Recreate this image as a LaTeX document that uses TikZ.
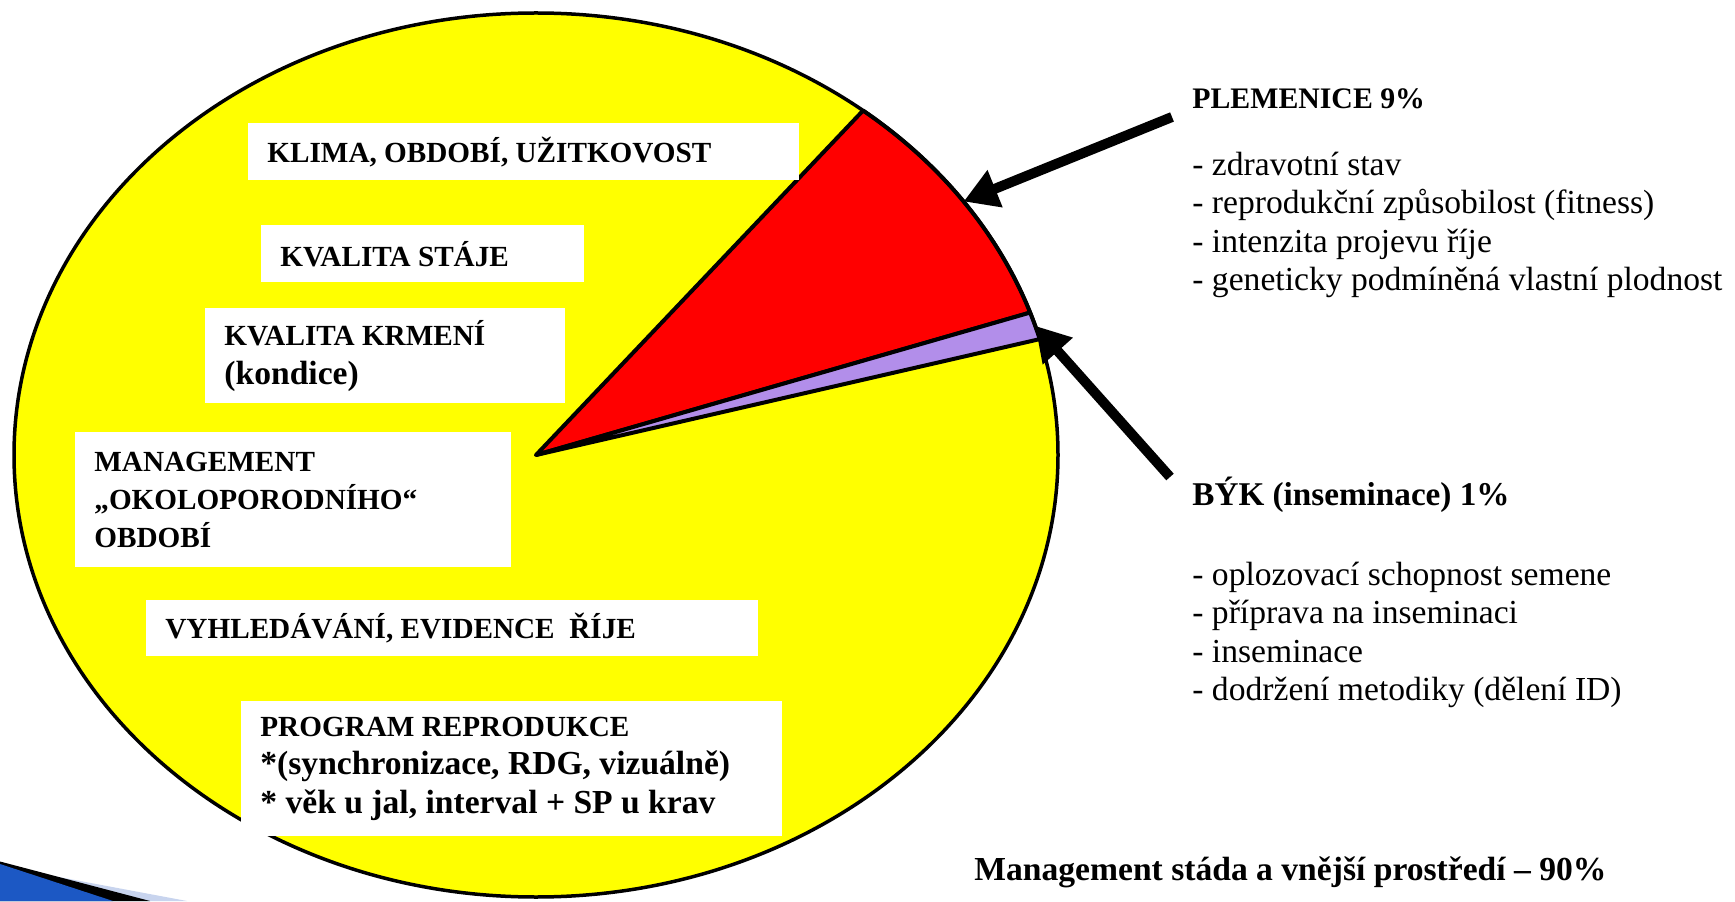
\documentclass[tikz,border=0pt]{standalone}
\usepackage{fontspec}
\setmainfont{Liberation Serif}
\usetikzlibrary{arrows.meta}
\newcommand{\lowtext}{\fontsize{16.8}{19.2}\selectfont}
\tikzset{box/.style = {anchor = north west, fill = white, inner xsep = 9.5pt, inner ysep = 0, align = flush left, font = \bfseries\fontsize{14.6}{19.2}\selectfont}}
\tikzset{slice/.style = {draw, line width = 2pt, line join = round}}
\tikzset{head/.style = {anchor = west, inner sep = 0, font = \bfseries\fontsize{14.9}{19}\selectfont}}
\tikzset{items/.style = {anchor = west, inner sep = 0, align = flush left, font = \fontsize{16.8}{19.2}\selectfont}}
\tikzset{pointer/.style = {line width = 5pt, -{Triangle[length = 17pt, width = 19pt]}}}
\definecolor{pieyellow}{rgb}{1, 1, 0}
\definecolor{piered}{rgb}{1, 0, 0}
\definecolor{pielilac}{RGB}{178, 142, 234}
\definecolor{swblue}{RGB}{28, 88, 196}
\definecolor{swpale}{RGB}{200, 212, 238}

\begin{document}
\begin{tikzpicture}[x = 0.5pt, y = 0.5pt]
    \useasboundingbox (0, 0) rectangle (1735, 901);

    % corner of the slide template
    \fill [swpale] (0, 35) -- (187, 0) -- (0, 0) -- cycle;
    \fill [black] (0, 39.5) -- (150, 0) -- (0, 0) -- cycle;
    \fill [swblue] (0, 37) -- (113, 0) -- (0, 0) -- cycle;

    % pie
    \coordinate (pie) at (536, 446);
    \fill [pieyellow] (pie) ellipse [x radius = 522, y radius = 442];
    \filldraw [slice, fill = piered] (pie) -- ++(51.2:522 and 442)
        arc [start angle = 51.2, end angle = 18.8, x radius = 522, y radius = 442] -- cycle;
    \filldraw [slice, fill = pielilac] (pie) -- ++(18.8:522 and 442)
        arc [start angle = 18.8, end angle = 15.2, x radius = 522, y radius = 442] -- cycle;
    \draw [line width = 1.75pt] (pie) ellipse [x radius = 522, y radius = 442];

    % labels inside
    \node [box, text width = 256.5pt, minimum height = 28.5pt] (klima) at (248, 778) {KLIMA, OBDOBÍ, UŽITKOVOST};
    \node [box, text width = 142.5pt, minimum height = 28.5pt] (staj) at (261, 676) {KVALITA STÁJE};
    \node [box, text width = 161pt, minimum height = 47.5pt] (krmeni) at (205, 593) {KVALITA KRMENÍ\\{\lowtext (kondice)}};
    \node [box, text width = 199pt, minimum height = 67.5pt] (porod) at (75, 469) {MANAGEMENT\\„OKOLOPORODNÍHO“\\OBDOBÍ};
    \node [box, text width = 287pt, minimum height = 28pt] (rije) at (146, 301) {VYHLEDÁVÁNÍ, EVIDENCE\ \ ŘÍJE};
    \node [box, text width = 251.5pt, minimum height = 67.5pt] (program) at (241, 200) {PROGRAM REPRODUKCE\\{\lowtext *(synchronizace, RDG, vizuálně)}\\{\lowtext * věk u jal, interval + SP u krav}};

    % right side
    \node [head] (plem) at (1192, 802.5) {PLEMENICE 9\%};
    \node [items] (plemItems) at (1192, 676) {- zdravotní stav\\- reprodukční způsobilost (fitness)\\- intenzita projevu říje\\- geneticky podmíněná vlastní plodnost};
    \node [head, font = \bfseries\fontsize{16.6}{19}\selectfont] (byk) at (1192, 406.4) {BÝK (inseminace) 1\%};
    \node [items] (bykItems) at (1192, 266) {- oplozovací schopnost semene\\- příprava na inseminaci\\- inseminace\\- dodržení metodiky (dělení ID)};
    \node [head, font = \bfseries\fontsize{16.8}{19}\selectfont] (total) at (974, 29) {Management stáda a vnější prostředí – 90\%};

    % arrows
    \coordinate (plemTail) at (1172, 784);
    \coordinate (plemTip) at ([shift = {(35:522 and 442)}] pie);
    \coordinate (bykTail) at (1170, 424);
    \coordinate (bykTip) at ([shift = {(17:522 and 442)}] pie);
    \draw [pointer] (plemTail) -- (plemTip);
    \draw [pointer] (bykTail) -- (bykTip);
\end{tikzpicture}
\end{document}
